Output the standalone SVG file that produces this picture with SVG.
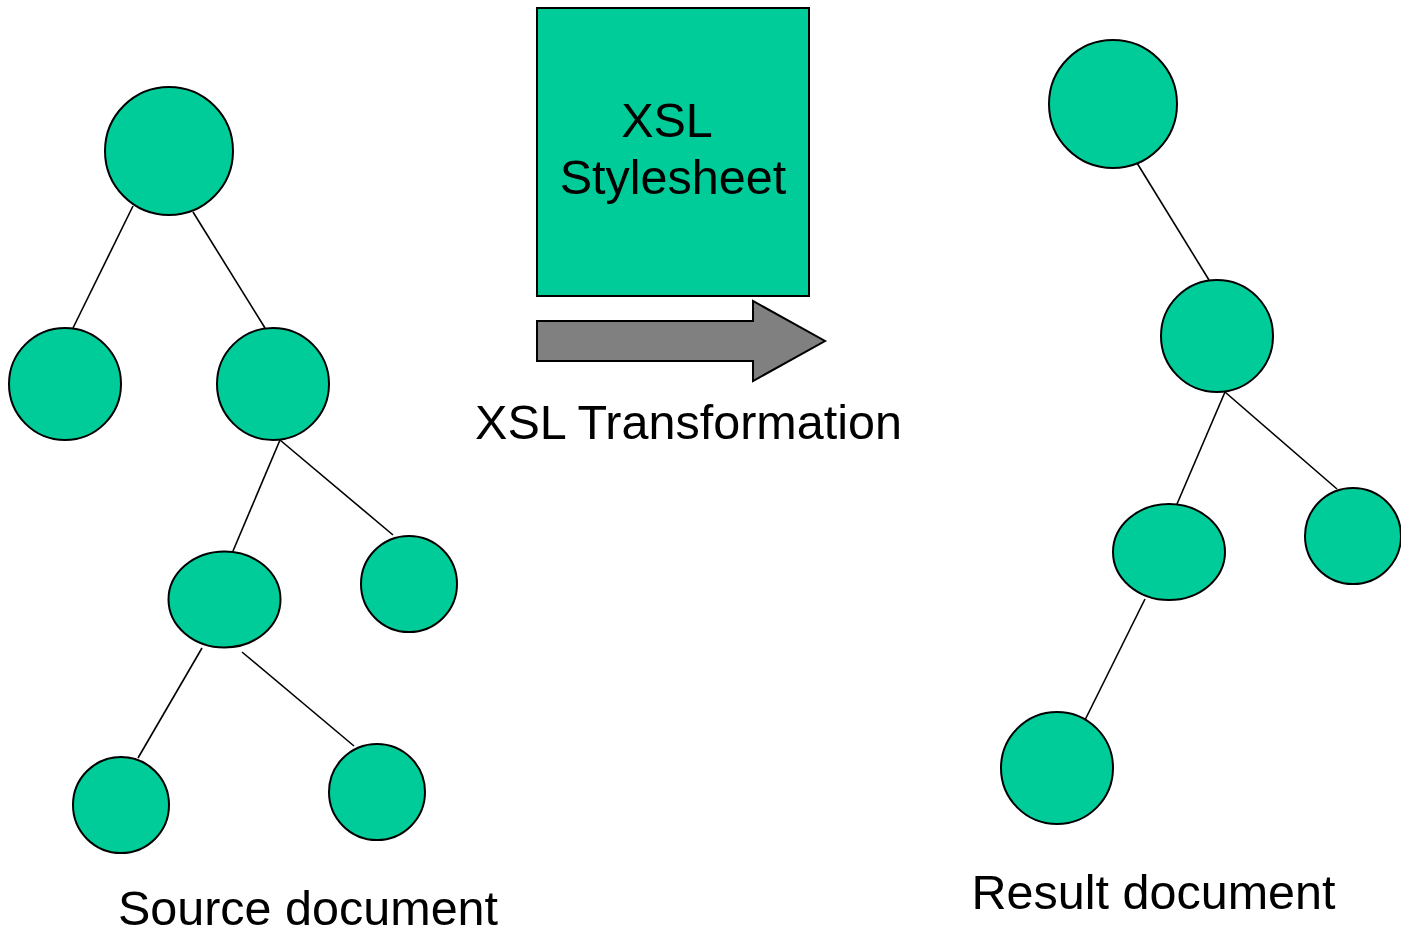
<svg xmlns="http://www.w3.org/2000/svg" width="1401" height="933" viewBox="0 0 1401 933">
  <style>
    .node { fill: #00cc99; stroke: #000; stroke-width: 2; }
    .edge { stroke: #000; stroke-width: 1.6; fill: none; }
    .label { font-family: "Liberation Sans", Arial, sans-serif; font-size: 48.5px; fill: #000; text-anchor: middle; }
  </style>
  <rect width="1401" height="933" fill="#fff"/>

  <!-- tree edges -->
  <g id="connectors">
    <line class="edge" x1="133" y1="206" x2="73" y2="328"/>
    <line class="edge" x1="193" y1="212" x2="265" y2="328"/>
    <line class="edge" x1="280" y1="440" x2="233" y2="551"/>
    <line class="edge" x1="280" y1="440" x2="393" y2="535"/>
    <line class="edge" x1="202" y1="648" x2="138" y2="758"/>
    <line class="edge" x1="242" y1="652" x2="354" y2="746"/>
    <line class="edge" x1="1137" y1="163" x2="1209" y2="280"/>
    <line class="edge" x1="1225" y1="392" x2="1177" y2="504"/>
    <line class="edge" x1="1225" y1="392" x2="1337" y2="489"/>
    <line class="edge" x1="1145" y1="599" x2="1085" y2="720"/>
  </g>

  <!-- source document tree -->
  <g id="src-root"><circle class="node" cx="169" cy="151" r="64"/></g>
  <g id="src-a"><circle class="node" cx="65" cy="384" r="56"/></g>
  <g id="src-b"><circle class="node" cx="273" cy="384" r="56"/></g>
  <g id="src-b1"><ellipse class="node" cx="224.5" cy="599.5" rx="56" ry="48"/></g>
  <g id="src-b2"><circle class="node" cx="409" cy="584" r="48"/></g>
  <g id="src-b1a"><circle class="node" cx="121" cy="805" r="48"/></g>
  <g id="src-b1b"><circle class="node" cx="377" cy="792" r="48"/></g>

  <!-- result document tree -->
  <g id="res-root"><circle class="node" cx="1113" cy="104" r="64"/></g>
  <g id="res-a"><circle class="node" cx="1217" cy="336" r="56"/></g>
  <g id="res-a1"><ellipse class="node" cx="1169" cy="552" rx="56" ry="48"/></g>
  <g id="res-a2"><circle class="node" cx="1353" cy="536" r="48"/></g>
  <g id="res-a1a"><circle class="node" cx="1057" cy="768" r="56"/></g>

  <!-- stylesheet box -->
  <g id="stylesheet">
    <rect class="node" x="537" y="8" width="272" height="288"/>
    <text class="label" x="667" y="137">XSL</text>
    <text class="label" x="673" y="194">Stylesheet</text>
  </g>

  <!-- transformation arrow -->
  <g id="transform">
    <polygon points="537,321 753,321 753,301 825,341 753,381 753,361 537,361" fill="#808080" stroke="#000" stroke-width="2"/>
    <text class="label" x="688.5" y="439">XSL Transformation</text>
  </g>

  <g id="captions">
    <text class="label" x="308" y="925">Source document</text>
    <text class="label" x="1153.5" y="909">Result document</text>
  </g>
</svg>
